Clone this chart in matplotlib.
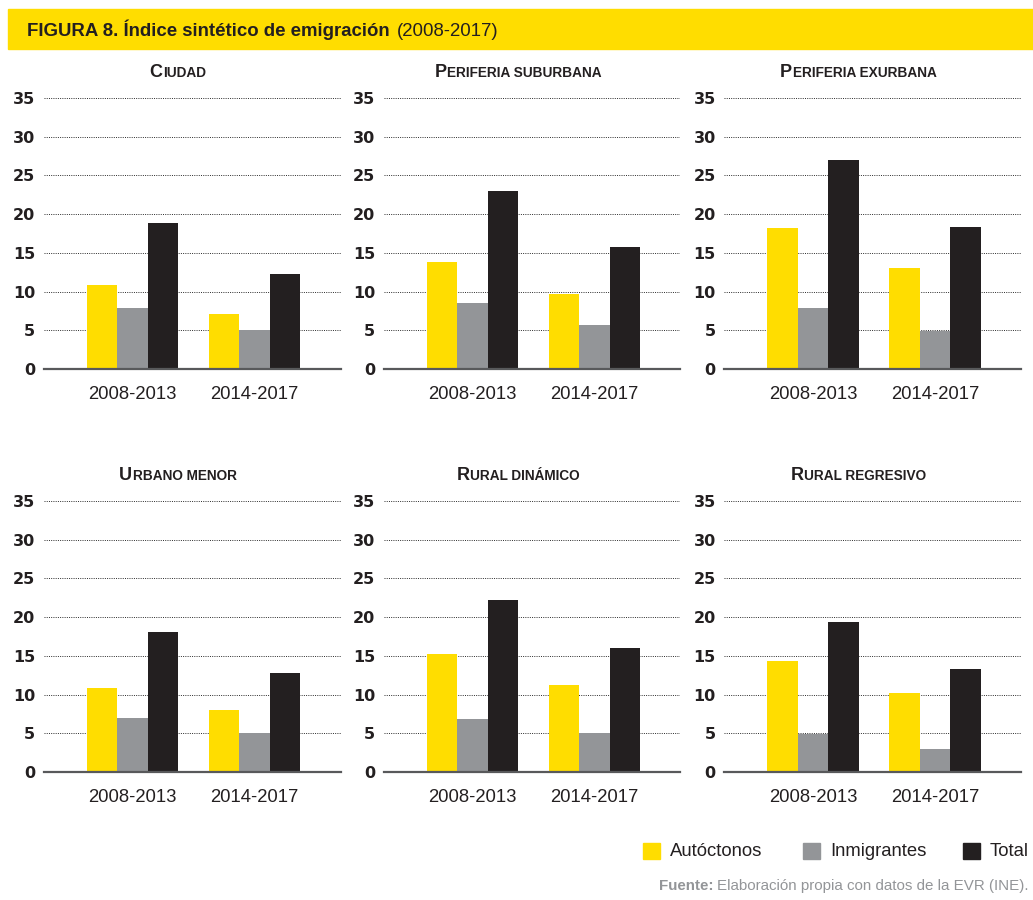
import matplotlib
matplotlib.use('Agg')
import matplotlib.pyplot as plt
from matplotlib.patches import Rectangle
from matplotlib.offsetbox import TextArea, HPacker, AnnotationBbox
import numpy as np

# ---------------- data ----------------
periods = ['2008-2013', '2014-2017']
series_names = ['Autóctonos', 'Inmigrantes', 'Total']
panel_titles = ['Ciudad', 'Periferia suburbana', 'Periferia exurbana',
                'Urbano menor', 'Rural dinámico', 'Rural regresivo']
autoctonos = [[10.9, 7.1], [13.8, 9.7], [18.2, 13.0],
              [10.9, 8.0], [15.3, 11.2], [14.4, 10.2]]
inmigrantes = [[7.9, 5.0], [8.5, 5.7], [7.9, 4.9],
               [7.0, 5.0], [6.8, 5.0], [4.9, 3.0]]
total = [[18.8, 12.3], [23.0, 15.8], [27.0, 18.4],
         [18.1, 12.8], [22.2, 16.0], [19.4, 13.3]]
yticks = [0, 5, 10, 15, 20, 25, 30, 35]

# ---------------- style ----------------
YELLOW = '#FFDD00'
GRAY = '#939598'
BLACK = '#231F20'
colors = [YELLOW, GRAY, BLACK]
FONT = 'Liberation Sans'
plt.rcParams['font.family'] = [FONT, 'DejaVu Sans']

W, H = 1033, 900
fig = plt.figure(figsize=(W / 100, H / 100), dpi=100)

def fx(px):
    return px / W

def fy(py):
    return 1 - py / H

# header band
fig.patches.append(Rectangle((fx(8), fy(49)), fx(1033) - fx(8), fy(9) - fy(49),
                             transform=fig.transFigure, color=YELLOW, zorder=0))
hdr = HPacker(children=[
    TextArea('FIGURA 8. Índice sintético de emigración',
             textprops=dict(fontsize=13.4, fontweight='bold', color=BLACK, family=FONT)),
    TextArea('(2008-2017)', textprops=dict(fontsize=13.4, color=BLACK, family=FONT))],
    align='baseline', pad=0, sep=5)
fig.add_artist(AnnotationBbox(hdr, (fx(27), fy(30)), xycoords='figure fraction',
                              box_alignment=(0, 0.5), frameon=False, pad=0))

# axes geometry (pixels)
lefts = [43.5, 383.5, 724]
axw = 297
row_zero = [369, 772]
unit = (369 - 98) / 35.0
ymax = 36.0
bar_w = 0.25
x = np.arange(len(periods))
allseries = [autoctonos, inmigrantes, total]

for i, title in enumerate(panel_titles):
    r, c = divmod(i, 3)
    left = lefts[c]
    bottom = row_zero[r]
    top = bottom - ymax * unit
    ax = fig.add_axes([fx(left), fy(bottom), axw / W, (bottom - top) / H])
    for k, s in enumerate(allseries):
        ax.bar(x + (k - 1) * bar_w, s[i], width=bar_w, color=colors[k],
               zorder=3, linewidth=0)
    ax.set_xlim(-0.73, 1.705)
    ax.set_ylim(0, ymax)
    ax.set_yticks(yticks)
    ax.set_yticklabels([str(v) for v in yticks], fontsize=11.5,
                       fontweight='bold', color=BLACK, family='DejaVu Sans')
    ax.set_xticks(x)
    ax.set_xticklabels(periods, fontsize=13.3, color=BLACK)
    ax.tick_params(axis='y', length=0, pad=6)
    ax.tick_params(axis='x', length=0, pad=12)
    for sp in ['top', 'right', 'left']:
        ax.spines[sp].set_visible(False)
    ax.spines['bottom'].set_color('#58595b')
    ax.spines['bottom'].set_linewidth(1.6)
    ax.spines['bottom'].set_zorder(4)
    for v in yticks[1:]:
        ax.axhline(v, color='#2a2a2a', linestyle=(0, (1, 1.3)), linewidth=0.7, zorder=1)
    # small-caps title
    first, rest = title[0], title[1:].upper()
    tb = HPacker(children=[
        TextArea(first, textprops=dict(fontsize=13, fontweight='bold', color=BLACK, family=FONT)),
        TextArea(rest, textprops=dict(fontsize=9.8, fontweight='bold', color=BLACK, family=FONT))],
        align='baseline', pad=0, sep=0.5)
    ax.add_artist(AnnotationBbox(tb, (0.453, 35), xycoords=('axes fraction', 'data'),
                                 xybox=(0, 12), boxcoords='offset points',
                                 box_alignment=(0.5, 0), frameon=False, pad=0,
                                 annotation_clip=False))

# legend (manual)
leg_x = [643, 803, 963]
for k, name in enumerate(series_names):
    fig.patches.append(Rectangle((fx(leg_x[k]), fy(859)), 17 / W, 16 / H,
                                 transform=fig.transFigure, color=colors[k]))
    fig.text(fx(leg_x[k] + 27), fy(851), name, fontsize=13.3, color=BLACK,
             va='center', ha='left')

# source
src = HPacker(children=[
    TextArea('Fuente:', textprops=dict(fontsize=10.9, fontweight='bold', color=GRAY, family=FONT)),
    TextArea('Elaboración propia con datos de la EVR (INE).',
             textprops=dict(fontsize=10.9, color=GRAY, family=FONT))],
    align='baseline', pad=0, sep=3)
fig.add_artist(AnnotationBbox(src, (fx(1029), fy(886)), xycoords='figure fraction',
                              box_alignment=(1, 0.5), frameon=False, pad=0))

fig.savefig('out.png', dpi=100)
